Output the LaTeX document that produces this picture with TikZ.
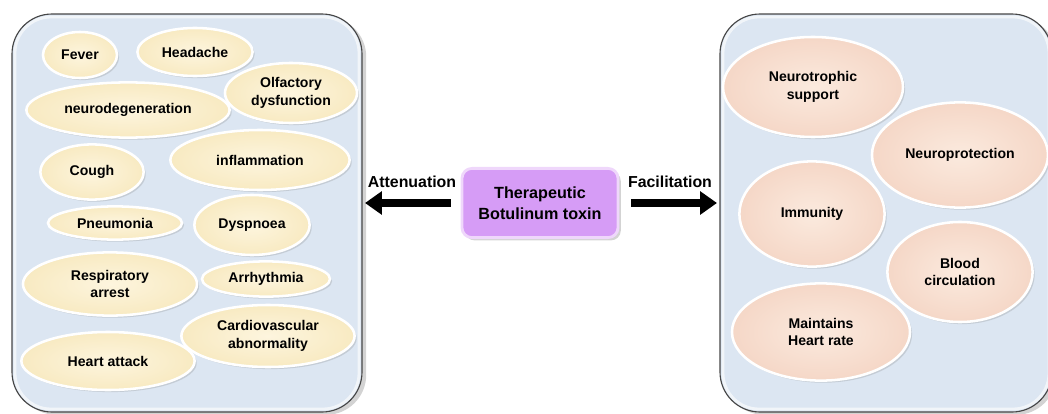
\documentclass[tikz,border=0pt]{standalone}
\usepackage{fontspec}
\setmainfont{Liberation Sans}
\usetikzlibrary{shapes.geometric,shadows,arrows.meta}
\definecolor{panelblue}{RGB}{220,230,242}
\definecolor{panelline}{RGB}{70,70,70}
\definecolor{creamin}{RGB}{253,245,222}
\definecolor{creamout}{RGB}{248,234,194}
\definecolor{peachin}{RGB}{251,234,222}
\definecolor{peachout}{RGB}{245,215,199}
\definecolor{toxviolet}{RGB}{214,156,246}
\begin{document}
\begin{tikzpicture}[x=0.025cm,y=-0.025cm,
 sym/.style={ellipse,inner sep=0pt,align=center,draw=white,line width=1.8pt,
  font=\bfseries\fontsize{10}{12.4}\selectfont,
  drop shadow={shadow xshift=1.5pt,shadow yshift=-1.5pt,opacity=0.25}},
 bad/.style 2 args={sym,inner color=creamin,outer color=creamout,minimum width=#1cm,minimum height=#2cm},
 good/.style 2 args={sym,inner color=peachin,outer color=peachout,minimum width=#1cm,minimum height=#2cm},
 panel/.style={draw=panelline,line width=0.8pt,fill=panelblue,rounded corners=1cm,
  drop shadow={shadow xshift=3pt,shadow yshift=-2pt,opacity=0.35}},
 glow/.style={draw=white,line width=2pt,opacity=0.6,rounded corners=0.9cm},
 toxbox/.style={rectangle,rounded corners=0.25cm,fill=toxviolet,draw=white!60!toxviolet,line width=2pt,
  minimum width=3.9cm,minimum height=1.73cm,align=center,
  font=\bfseries\fontsize{11.5}{15}\selectfont,
  drop shadow={shadow xshift=2pt,shadow yshift=-2pt,opacity=0.35}},
 lbl/.style={font=\bfseries\fontsize{11.3}{13}\selectfont},
 fat/.style={line width=5pt,-{Triangle[length=12pt,width=16pt]}}]
\useasboundingbox (0,0) rectangle (1048,414);
% panels
\draw[panel] (12,14) rectangle (362,412);
\draw[glow] (15,17) rectangle (359,409);
\draw[panel] (720,14) rectangle (1052,412);
\draw[glow] (723,17) rectangle (1049,409);
% what the toxin attenuates
\node[bad={1.85}{1.15}] (fever) at (80,55) {Fever};
\node[bad={2.88}{1.2}] (headache) at (195,52) {Headache};
\node[bad={5.08}{1.38}] (neurodeg) at (128,110) {neurodegeneration};
\node[bad={3.3}{1.5}] (olfac) at (291,93) {Olfactory\\dysfunction};
\node[bad={2.58}{1.38}] (cough) at (92,172) {Cough};
\node[bad={4.48}{1.5}] (inflam) at (260,160) {inflammation};
\node[bad={3.35}{0.83}] (pneum) at (115,223) {Pneumonia};
\node[bad={2.88}{1.5}] (dysp) at (252,225) {Dyspnoea};
\node[bad={4.35}{1.58}] (resp) at (110,284) {Respiratory\\arrest};
\node[bad={3.2}{0.88}] (arrhy) at (266,279) {Arrhythmia};
\node[bad={4.33}{1.45}] (heart) at (108,361) {Heart attack};
\node[bad={4.33}{1.55}] (cardio) at (268,336) {Cardiovascular\\abnormality};
% what it facilitates
\node[good={4.5}{2.5}] (trophic) at (813,87) {Neurotrophic\\support};
\node[good={4.4}{2.63}] (protect) at (960,155) {Neuroprotection};
\node[good={3.63}{2.63}] (immun) at (812,214) {Immunity};
\node[good={4.45}{2.43}] (hrate) at (821,332) {Maintains\\Heart rate};
\node[good={3.63}{2.5}] (blood) at (960,272) {Blood\\circulation};
% centre
\node[toxbox] (toxin) at (540,203) {Therapeutic\\Botulinum toxin};
\coordinate (attn) at (365,203);
\coordinate (facil) at (717,203);
\draw[fat,shorten <=0.25cm] (toxin.west) -- (attn);
\draw[fat,shorten <=0.3cm] (toxin.east) -- (facil);
\node[lbl] (attlbl) at (412,182) {Attenuation};
\node[lbl] (faclbl) at (670,182) {Facilitation};
\end{tikzpicture}
\end{document}
